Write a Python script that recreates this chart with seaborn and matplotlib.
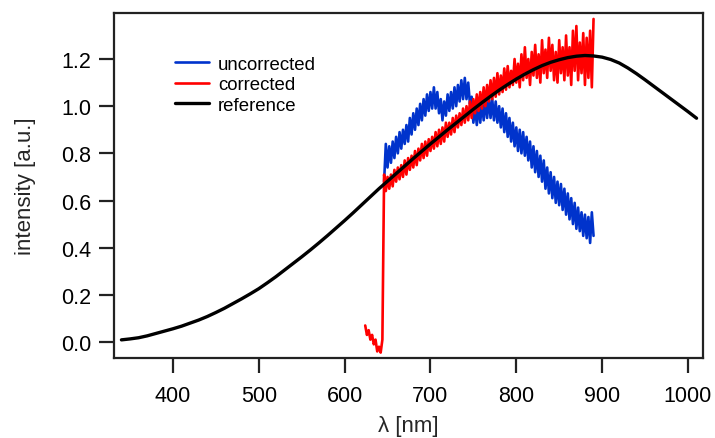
import numpy as np
import pandas as pd
import matplotlib
matplotlib.use("Agg")
import matplotlib.pyplot as plt
import seaborn as sns

# ---------------- data ----------------
ref_nm = list(range(340, 1011, 10))
ref_int = [0.009, 0.013, 0.018, 0.026, 0.036, 0.046, 0.056, 0.067, 0.080, 0.093,
           0.108, 0.125, 0.143, 0.163, 0.183, 0.204, 0.226, 0.251, 0.277, 0.305,
           0.333, 0.361, 0.390, 0.420, 0.451, 0.483, 0.515, 0.548, 0.582, 0.616,
           0.650, 0.682, 0.714, 0.746, 0.778, 0.809, 0.840, 0.870, 0.900, 0.929,
           0.958, 0.987, 1.015, 1.042, 1.068, 1.092, 1.115, 1.136, 1.155, 1.172,
           1.186, 1.197, 1.206, 1.212, 1.215, 1.213, 1.208, 1.198, 1.183, 1.162,
           1.138, 1.112, 1.085, 1.058, 1.031, 1.004, 0.977, 0.949]

corr_nm = list(range(624, 891, 2))
corr_int = [
    0.07, 0.03, 0.05, 0.01, 0.03, -0.01, 0.01, -0.04, -0.02, -0.045, 0.01,
    0.71, 0.64,
    0.70, 0.65, 0.71, 0.66, 0.73,
    0.68, 0.74, 0.69, 0.75, 0.70,
    0.77, 0.71, 0.78, 0.73, 0.79,
    0.74, 0.81, 0.75, 0.82, 0.77,
    0.84, 0.78, 0.85, 0.79, 0.86,
    0.81, 0.87, 0.82, 0.89, 0.83,
    0.90, 0.84, 0.91, 0.85, 0.93,
    0.87, 0.93, 0.88, 0.95, 0.89,
    0.96, 0.91, 0.97, 0.92, 0.99,
    0.93, 1.00, 0.94, 1.02, 0.95,
    1.03, 0.97, 1.05, 0.98, 1.06,
    0.99, 1.08, 1.00, 1.09, 1.02,
    1.11, 1.03, 1.12, 1.04, 1.14,
    1.05, 1.13, 1.06, 1.16, 1.07,
    1.17, 1.08, 1.15, 1.09, 1.20,
    1.10, 1.18, 1.08, 1.22, 1.11,
    1.25, 1.12, 1.20, 1.09, 1.23,
    1.13, 1.26, 1.12, 1.22, 1.10,
    1.28, 1.14, 1.24, 1.12, 1.29,
    1.15, 1.26, 1.11, 1.23, 1.10,
    1.28, 1.14, 1.25, 1.11, 1.30,
    1.13, 1.25, 1.09, 1.32, 1.15,
    1.34, 1.11, 1.27, 1.14, 1.31,
    1.09, 1.29, 1.12, 1.32, 1.08, 1.37,
]

unc_nm = list(range(646, 891, 2))
unc_int = [
    0.68, 0.84,
    0.74, 0.83, 0.76, 0.85, 0.78,
    0.87, 0.80, 0.89, 0.82, 0.90,
    0.84, 0.92, 0.85, 0.95, 0.88,
    0.97, 0.90, 0.99, 0.92, 1.01,
    0.94, 1.03, 0.96, 1.05, 0.98,
    1.06, 0.99, 1.08, 0.99, 1.06,
    0.97, 1.03, 0.94, 1.02, 0.96,
    1.05, 0.98, 1.06, 0.99, 1.08,
    1.00, 1.09, 1.02, 1.11, 1.03,
    1.12, 1.03, 1.10, 1.01, 1.04,
    0.93, 1.00, 0.92, 1.01, 0.93,
    1.02, 0.94, 1.03, 0.95, 1.04,
    0.95, 1.03, 0.94, 1.02, 0.93,
    1.00, 0.91, 0.99, 0.89, 0.97,
    0.87, 0.95, 0.85, 0.93, 0.83,
    0.91, 0.81, 0.90, 0.80, 0.89,
    0.79, 0.87, 0.77, 0.85, 0.74,
    0.83, 0.72, 0.81, 0.70, 0.79,
    0.68, 0.77, 0.65, 0.74, 0.63,
    0.72, 0.61, 0.70, 0.59, 0.68,
    0.58, 0.67, 0.56, 0.65, 0.54,
    0.63, 0.52, 0.61, 0.50, 0.59,
    0.48, 0.57, 0.47, 0.55, 0.45,
    0.54, 0.44, 0.53, 0.42, 0.55, 0.45,
]

x_ticks = [400, 500, 600, 700, 800, 900, 1000]
y_ticks = [0.0, 0.2, 0.4, 0.6, 0.8, 1.0, 1.2]

# ---------------- style ----------------
sns.set_theme(style="ticks")
plt.rcParams["font.family"] = ["Liberation Sans", "DejaVu Sans"]

fig = plt.figure(figsize=(7.15, 4.39), dpi=100)
ax = fig.add_axes([0.1594, 0.1822, 0.8238, 0.7858])

BLUE = "#0033CC"
RED = "#FF0000"

df_unc = pd.DataFrame({"nm": unc_nm, "val": unc_int})
df_cor = pd.DataFrame({"nm": corr_nm, "val": corr_int})
df_ref = pd.DataFrame({"nm": ref_nm, "val": ref_int})

sns.lineplot(data=df_unc, x="nm", y="val", ax=ax, color=BLUE, linewidth=1.9,
             estimator=None, sort=False, label="uncorrected")
sns.lineplot(data=df_cor, x="nm", y="val", ax=ax, color=RED, linewidth=1.9,
             estimator=None, sort=False, label="corrected")
sns.lineplot(data=df_ref, x="nm", y="val", ax=ax, color="black", linewidth=2.4,
             estimator=None, sort=False, label="reference")

ax.set_xlim(331.3, 1017.5)
ax.set_ylim(-0.068, 1.395)
ax.set_xticks(x_ticks)
ax.set_yticks(y_ticks)
ax.set_yticklabels([f"{v:.1f}" for v in y_ticks])

for s in ax.spines.values():
    s.set_visible(True)
    s.set_linewidth(1.6)
    s.set_color("#222222")

ax.tick_params(axis="both", direction="out", length=10.6, width=1.6,
               labelsize=15.5, colors="#222222", labelcolor="black",
               top=False, right=False)
ax.tick_params(axis="x", pad=8.5)
ax.tick_params(axis="y", pad=6)

ax.set_xlabel("λ [nm]", fontsize=16, labelpad=7)
ax.set_ylabel("intensity [a.u.]", fontsize=16, labelpad=18)

leg = ax.legend(loc="upper left", bbox_to_anchor=(0.1036, 0.876),
                frameon=False, fontsize=13.4, handlelength=1.83,
                handletextpad=0.48, labelspacing=0.19, borderpad=0,
                borderaxespad=0)
for t in leg.get_texts():
    t.set_color("black")

fig.savefig("out.png", dpi=100)
